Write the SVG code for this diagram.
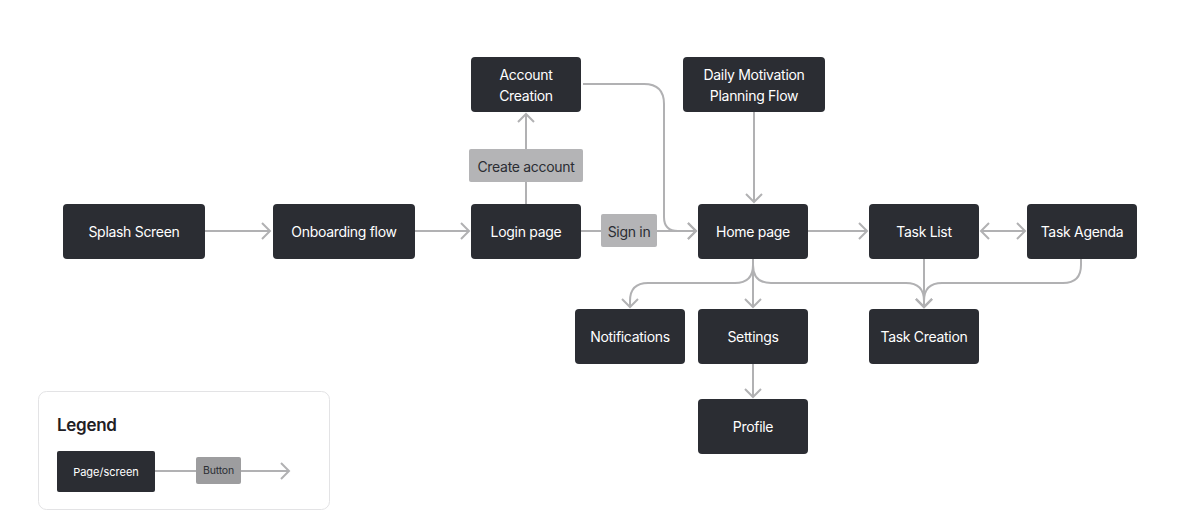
<svg xmlns="http://www.w3.org/2000/svg" width="1200" height="511" viewBox="0 0 1200 511">
<style>
.node rect{fill:#2b2d33}
.node text{fill:#ffffff;font-family:Inter,"Liberation Sans",sans-serif;font-size:14px;letter-spacing:-0.3px;text-anchor:middle;dominant-baseline:central}
.btn rect{fill:#b4b4b6}
.btn text{fill:#2b2d33;font-family:Inter,"Liberation Sans",sans-serif;font-size:14px;letter-spacing:-0.3px;text-anchor:middle;dominant-baseline:central}
.edge{fill:none;stroke:#b1b1b3;stroke-width:2}
</style>
<defs>
<marker id="arr" viewBox="-10 -10 12 20" markerWidth="12" markerHeight="20" refX="0" refY="0" orient="auto-start-reverse" markerUnits="userSpaceOnUse">
<path d="M-8,-8 L0,0 L-8,8" fill="none" stroke="#b1b1b3" stroke-width="2"/>
</marker>
</defs>
<rect width="1200" height="511" fill="#ffffff"/>
<g id="connectors">
<path class="edge" d="M205,231 H270" marker-end="url(#arr)"/>
<path class="edge" d="M415,231 H469" marker-end="url(#arr)"/>
<path class="edge" d="M526,204 V114" marker-end="url(#arr)"/>
<path class="edge" d="M581,231 H696" marker-end="url(#arr)"/>
<path class="edge" d="M583,84 H644 Q664,84 664,104 V217 Q664,231 678,231 H696" marker-end="url(#arr)"/>
<path class="edge" d="M754,112 V202" marker-end="url(#arr)"/>
<path class="edge" d="M808,231 H867" marker-end="url(#arr)"/>
<path class="edge" d="M981,231 H1025" marker-start="url(#arr)" marker-end="url(#arr)"/>
<path class="edge" d="M753,259 V265 Q753,283 735,283 H648 Q630,283 630,301 V307" marker-end="url(#arr)"/>
<path class="edge" d="M753,259 V307" marker-end="url(#arr)"/>
<path class="edge" d="M753,259 V265 Q753,283 771,283 H906 Q924,283 924,301 V307" marker-end="url(#arr)"/>
<path class="edge" d="M924,259 V307" marker-end="url(#arr)"/>
<path class="edge" d="M1081,259 V265 Q1081,283 1063,283 H942 Q924,283 924,301 V307" marker-end="url(#arr)"/>
<path class="edge" d="M753,364 V397" marker-end="url(#arr)"/>
</g>
<g id="btn-create" class="btn"><rect x="469" y="149" width="114" height="33" rx="2"/><text x="526" y="166">Create account</text></g>
<g id="btn-signin" class="btn"><rect x="601" y="214" width="56" height="33" rx="2"/><text x="629" y="231">Sign in</text></g>
<g id="splash" class="node"><rect x="63" y="204" width="142" height="55" rx="4"/><text x="134" y="231.5">Splash Screen</text></g>
<g id="onboarding" class="node"><rect x="273" y="204" width="142" height="55" rx="4"/><text x="344" y="231.5">Onboarding flow</text></g>
<g id="login" class="node"><rect x="471" y="204" width="110" height="55" rx="4"/><text x="526" y="231.5">Login page</text></g>
<g id="account" class="node"><rect x="471" y="57" width="110" height="55" rx="4"/><text x="526" y="74">Account</text><text x="526" y="95">Creation</text></g>
<g id="daily" class="node"><rect x="683" y="57" width="142" height="55" rx="4"/><text x="754" y="74">Daily Motivation</text><text x="754" y="95">Planning Flow</text></g>
<g id="home" class="node"><rect x="698" y="204" width="110" height="55" rx="4"/><text x="753" y="231.5">Home page</text></g>
<g id="tasklist" class="node"><rect x="869" y="204" width="110" height="55" rx="4"/><text x="924" y="231.5">Task List</text></g>
<g id="taskagenda" class="node"><rect x="1027" y="204" width="110" height="55" rx="4"/><text x="1082" y="231.5">Task Agenda</text></g>
<g id="notifications" class="node"><rect x="575" y="309" width="110" height="55" rx="4"/><text x="630" y="336.5">Notifications</text></g>
<g id="settings" class="node"><rect x="698" y="309" width="110" height="55" rx="4"/><text x="753" y="336.5">Settings</text></g>
<g id="taskcreation" class="node"><rect x="869" y="309" width="110" height="55" rx="4"/><text x="924" y="336.5">Task Creation</text></g>
<g id="profile" class="node"><rect x="698" y="399" width="110" height="55" rx="4"/><text x="753" y="426.5">Profile</text></g>
<g id="legend">
<rect x="38.5" y="391.5" width="291" height="118" rx="8" fill="#ffffff" stroke="#e3e3e5" stroke-width="1"/>
<text x="57" y="431" font-family="Inter,'Liberation Sans',sans-serif" font-size="17" font-weight="600" letter-spacing="-0.3" fill="#1f2024">Legend</text>
<path class="edge" d="M155,471 H289" marker-end="url(#arr)"/>
<rect x="57" y="451" width="98" height="41" rx="2" fill="#2b2d33"/>
<text x="106" y="471.5" font-family="Inter,'Liberation Sans',sans-serif" font-size="11" fill="#ffffff" text-anchor="middle" dominant-baseline="central">Page/screen</text>
<rect x="196" y="457" width="45" height="27" rx="2" fill="#9d9d9f"/>
<text x="218.5" y="470.5" font-family="Inter,'Liberation Sans',sans-serif" font-size="10.5" letter-spacing="-0.2" fill="#2b2d33" text-anchor="middle" dominant-baseline="central">Button</text>
</g>
</svg>
